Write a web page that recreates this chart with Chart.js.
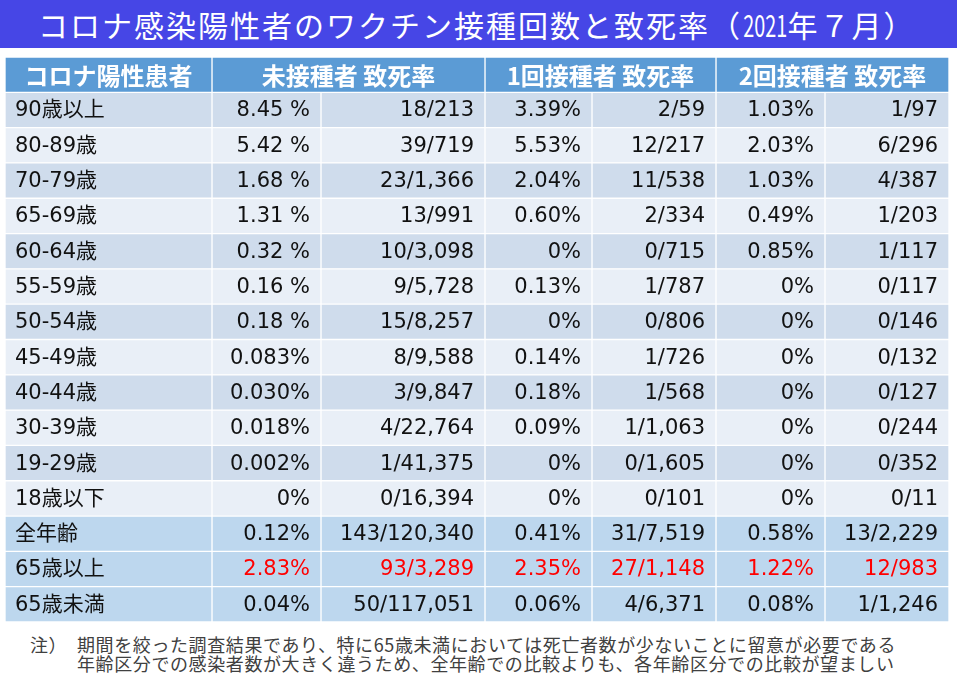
<!DOCTYPE html>
<html><head><meta charset="utf-8">
<script src="https://cdn.jsdelivr.net/npm/chart.js@4"></script>
<style>
html,body{margin:0;padding:0;background:#fff;width:957px;height:680px;overflow:hidden;}
#band{position:absolute;left:0;top:0;width:957px;height:48px;background:#4646E6;}
#title{position:absolute;left:38px;top:0;height:48px;color:#fff;font-family:"Noto Sans CJK JP";font-size:30px;line-height:48px;letter-spacing:2px;white-space:nowrap;}
#title .num{display:inline-block;transform:scaleX(0.66);margin:0 -11px 0 -10px;letter-spacing:0;}
#wrap{position:absolute;left:5px;top:57px;width:944px;height:565px;}
.note{position:absolute;font-family:"Noto Sans CJK JP";font-size:18px;color:#404040;line-height:20px;white-space:nowrap;letter-spacing:0.6px;}
</style></head>
<body>
<div id="band"></div>
<div id="title">コロナ感染陽性者のワクチン接種回数と致死率（<span class="num">2021</span>年７月）</div>
<div id="wrap"><canvas id="c"></canvas></div>
<div class="note" style="left:30px;top:634px;">注）</div>
<div class="note" style="left:77px;top:634px;">期間を絞った調査結果であり、特に65歳未満においては死亡者数が少ないことに留意が必要である</div>
<div class="note" style="left:77px;top:653px;">年齢区分での感染者数が大きく違うため、全年齢での比較よりも、各年齢区分での比較が望ましい</div>
<script>
// ---- data ----
const ageGroups = ['90歳以上','80-89歳','70-79歳','65-69歳','60-64歳','55-59歳','50-54歳','45-49歳','40-44歳','30-39歳','19-29歳','18歳以下','全年齢','65歳以上','65歳未満'];
const unvaxRate = ['8.45 %','5.42 %','1.68 %','1.31 %','0.32 %','0.16 %','0.18 %','0.083%','0.030%','0.018%','0.002%','0%','0.12%','2.83%','0.04%'];
const unvaxDeaths = ['18/213','39/719','23/1,366','13/991','10/3,098','9/5,728','15/8,257','8/9,588','3/9,847','4/22,764','1/41,375','0/16,394','143/120,340','93/3,289','50/117,051'];
const dose1Rate = ['3.39%','5.53%','2.04%','0.60%','0%','0.13%','0%','0.14%','0.18%','0.09%','0%','0%','0.41%','2.35%','0.06%'];
const dose1Deaths = ['2/59','12/217','11/538','2/334','0/715','1/787','0/806','1/726','1/568','1/1,063','0/1,605','0/101','31/7,519','27/1,148','4/6,371'];
const dose2Rate = ['1.03%','2.03%','1.03%','0.49%','0.85%','0%','0%','0%','0%','0%','0%','0%','0.58%','1.22%','0.08%'];
const dose2Deaths = ['1/97','6/296','4/387','1/203','1/117','0/117','0/146','0/132','0/127','0/244','0/352','0/11','13/2,229','12/983','1/1,246'];
const headerLabels = ['コロナ陽性患者','未接種者 致死率','1回接種者 致死率','2回接種者 致死率'];
const summaryRows = ['全年齢','65歳以上','65歳未満'];
const highlightRow = '65歳以上';

// ---- layout / style ----
const colWidths = [207,109,164,107,124,109,124];
const headerSpan = [1,2,0,2,0,2,0];
const COL_HEADER = '#5B9BD5', COL_ODD = '#CFDCEC', COL_EVEN = '#E9EFF7', COL_SUM = '#BDD7EE';

const columns = [ageGroups, unvaxRate, unvaxDeaths, dose1Rate, dose1Deaths, dose2Rate, dose2Deaths];
const rowLabels = ['header', ...ageGroups];
const rowColors = rowLabels.map((r,i)=> i===0 ? COL_HEADER : (summaryRows.includes(r) ? COL_SUM : ((i-1)%2===0 ? COL_ODD : COL_EVEN)));

let hIdx = 0;
const datasets = columns.map((col, c) => {
  let headerWidth = 0, headerText = '';
  if (headerSpan[c] > 0) {
    for (let k = 0; k < headerSpan[c]; k++) headerWidth += colWidths[c+k];
    headerText = headerLabels[hIdx++];
  }
  return {
    label: 'col' + c,
    data: [headerWidth, ...col.map(()=>colWidths[c])],
    texts: [headerText, ...col],
    align: c === 0 ? 'left' : 'right',
    backgroundColor: rowColors,
    borderColor: '#ffffff',
    borderWidth: 1,
    borderSkipped: false,
    categoryPercentage: 1,
    barPercentage: 1
  };
});

const cellText = {
  id: 'cellText',
  afterDatasetsDraw(chart) {
    const ctx = chart.ctx;
    ctx.save();
    ctx.textBaseline = 'middle';
    chart.data.datasets.forEach((ds, di) => {
      const meta = chart.getDatasetMeta(di);
      meta.data.forEach((el, ri) => {
        const t = ds.texts[ri];
        if (!t) return;
        const p = el.getProps(['x','base','y'], true);
        const left = Math.min(p.x, p.base), right = Math.max(p.x, p.base);
        if (ri === 0) {
          ctx.font = 'bold 24px "Noto Sans CJK JP"';
          ctx.fillStyle = '#ffffff';
          ctx.textAlign = 'center';
          ctx.fillText(t, (left + right) / 2, p.y + 1);
        } else {
          ctx.font = '21px "DejaVu Sans", "Noto Sans CJK JP"';
          const isHi = rowLabels[ri] === highlightRow && di > 0;
          ctx.fillStyle = isHi ? '#FF0000' : '#111111';
          if (ds.align === 'left') { ctx.textAlign = 'left'; ctx.fillText(t, left + 10, p.y + 1); }
          else { ctx.textAlign = 'right'; ctx.fillText(t, right - 11, p.y + 1); }
        }
      });
    });
    ctx.restore();
  }
};

new Chart(document.getElementById('c'), {
  type: 'bar',
  data: { labels: rowLabels, datasets },
  options: {
    indexAxis: 'y',
    responsive: true,
    maintainAspectRatio: false,
    animation: false,
    events: [],
    layout: { padding: 0 },
    scales: {
      x: { type: 'linear', stacked: true, min: 0, max: colWidths.reduce((a,b)=>a+b,0), display: false },
      y: { type: 'category', stacked: true, display: false, offset: true }
    },
    plugins: { legend: { display: false }, tooltip: { enabled: false } }
  },
  plugins: [cellText]
});
</script>
</body></html>
